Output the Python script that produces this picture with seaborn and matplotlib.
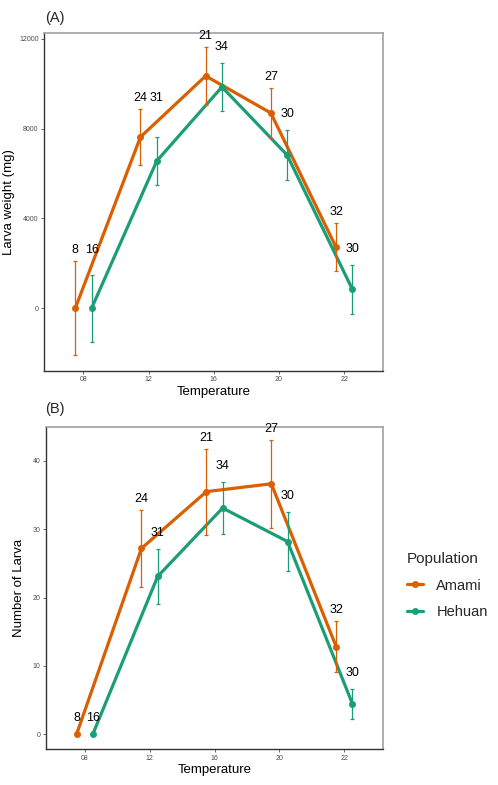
import numpy as np
import pandas as pd
import matplotlib
matplotlib.use("Agg")
import matplotlib.pyplot as plt
import seaborn as sns

temps = ["08", "12", "16", "20", "22"]
populations = ["Amami", "Hehuan"]
colors = {"Amami": "#D95F02", "Hehuan": "#1B9E77"}

# panel A: larva weight (mg), mean and error bar half-width
weight_amami = [0, 7630, 10350, 8700, 2720]
weight_amami_err = [2100, 1230, 1300, 1120, 1070]
weight_hehuan = [0, 6560, 9860, 6825, 850]
weight_hehuan_err = [1480, 1070, 1050, 1100, 1100]

# panel B: number of larva
count_amami = [0, 27.2, 35.5, 36.65, 12.8]
count_amami_err = [0, 5.6, 6.3, 6.4, 3.75]
count_hehuan = [0, 23.1, 33.1, 28.2, 4.45]
count_hehuan_err = [0, 4.0, 3.75, 4.3, 2.2]

# sample sizes written above the points
n_amami = [8, 24, 21, 27, 32]
n_hehuan = [16, 31, 34, 30, 30]

sns.set_style("white")
plt.rcParams['font.family'] = ['Liberation Sans', 'DejaVu Sans']

fig = plt.figure(figsize=(4.98, 7.85), dpi=100)
W, H = 498, 785


def panel(rect, m_a, e_a, m_h, e_h, ylabel, yticks, ylim, shared, ylab_x, xlab_y):
    ax = fig.add_axes(rect)
    df = pd.DataFrame({
        "Temperature": temps * 2,
        "value": m_a + m_h,
        "err": e_a + e_h,
        "n": n_amami + n_hehuan,
        "Population": ["Amami"] * 5 + ["Hehuan"] * 5,
    })
    sns.pointplot(data=df, x="Temperature", y="value", hue="Population",
                  order=temps, hue_order=populations, palette=colors,
                  dodge=0.25, errorbar=None, markers="o", linestyles="-",
                  linewidth=2.3, markersize=4.5, markeredgewidth=0.5, ax=ax)
    ax.set_xlim(-0.6, 4.6)
    ax.set_ylim(*ylim)

    # per-pixel size in data units, for label offsets
    px = (ylim[1] - ylim[0]) / (rect[3] * H)
    lines = [l for l in ax.lines if len(l.get_xdata()) == 5]
    label_pos = {}
    for line, pop, off in zip(lines, populations, [11, 16]):
        sub = df[df["Population"] == pop]
        xs = np.asarray(line.get_xdata(), dtype=float)
        ys = sub["value"].to_numpy()
        es = sub["err"].to_numpy()
        keep = es > 0
        ax.errorbar(xs[keep], ys[keep], yerr=es[keep], fmt="none",
                    ecolor=colors[pop], elinewidth=0.9, capsize=1.5,
                    capthick=0.9, zorder=4)
        label_pos[pop] = (xs, ys + es + off * px, sub["n"].to_numpy())
    for i, t in enumerate(temps):
        if t in shared:
            top = max(label_pos[p][1][i] for p in populations)
            for p in populations:
                label_pos[p][1][i] = top
    for p in populations:
        xs, ys, ns = label_pos[p]
        for x, y, n in zip(xs, ys, ns):
            ax.text(x, y, str(n), ha="center", va="center", fontsize=9,
                    color="black", zorder=5)

    ax.set_yticks(yticks)
    ax.set_xlabel("Temperature", fontsize=9.5, color="black")
    ax.set_ylabel(ylabel, fontsize=9.5, color="black")
    ax.xaxis.set_label_coords(0.5, xlab_y)
    ax.yaxis.set_label_coords(ylab_x, 0.5)
    ax.tick_params(axis="both", which="both", labelsize=5, colors="#4d4d4d",
                   length=2.5, width=0.6, pad=1.5, left=True, bottom=True)
    for s in ["top", "right"]:
        ax.spines[s].set_color("#a0a0a0")
        ax.spines[s].set_linewidth(1.2)
    for s in ["left", "bottom"]:
        ax.spines[s].set_color("#333333")
        ax.spines[s].set_linewidth(1.0)
    return ax


axA = panel([44.3 / W, 1 - 370.7 / H, 339 / W, 337.7 / H],
            weight_amami, weight_amami_err, weight_hehuan, weight_hehuan_err,
            "Larva weight (mg)", [0, 4000, 8000, 12000], (-2780, 12263),
            ["08", "12"], -0.085, -0.045)
axA.get_legend().remove()

axB = panel([45.7 / W, 1 - 749 / H, 337.6 / W, 322.3 / H],
            count_amami, count_amami_err, count_hehuan, count_hehuan_err,
            "Number of Larva", [0, 10, 20, 30, 40], (-2.15, 45.0),
            ["08"], -0.062, -0.047)
handles, labels = axB.get_legend_handles_labels()
axB.get_legend().remove()
leg = fig.legend(handles, labels, title="Population", loc="upper left",
                 bbox_to_anchor=(394 / W, 1 - 539 / H), frameon=False,
                 fontsize=10.5, title_fontsize=11, handlelength=1.1,
                 handletextpad=0.9, labelspacing=0.85)
leg._legend_box.align = "left"

fig.text(45 / W, 1 - 18 / H, "(A)", fontsize=10.5, va="center", ha="left")
fig.text(45 / W, 1 - 409 / H, "(B)", fontsize=10.5, va="center", ha="left")

fig.savefig("out.png", dpi=100)
